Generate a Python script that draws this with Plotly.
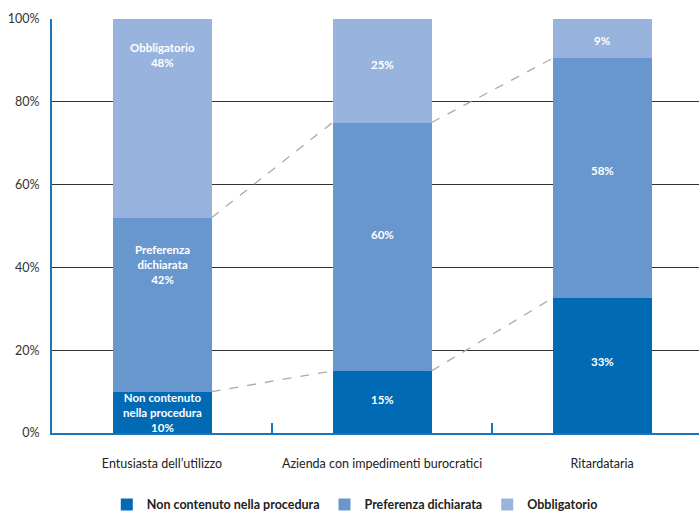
import plotly.graph_objects as go

categories = ["Entusiasta dell\u2019utilizzo", "Azienda con impedimenti burocratici", "Ritardataria"]
series_names = ["Non contenuto nella procedura", "Preferenza dichiarata", "Obbligatorio"]
non_contenuto = [10, 15, 32.6]
preferenza = [42, 60, 57.9]
obbligatorio = [48, 25, 9.5]
label_values = [[10, 15, 33], [42, 60, 58], [48, 25, 9]]
y_ticks = [0, 20, 40, 60, 80, 100]
y_tick_labels = ["0%", "20%", "40%", "60%", "80%", "100%"]

colors = ["#006AB4", "#6897CE", "#98B3DD"]
FONT = "Lato"
BAR_W = 0.45

series = [non_contenuto, preferenza, obbligatorio]
xs = list(range(len(categories)))

fig = go.Figure()
for name, vals, col in zip(series_names, series, colors):
    fig.add_trace(go.Bar(x=xs, y=vals, name=name, marker=dict(color=col, line=dict(width=0)),
                         width=BAR_W, hoverinfo="skip"))

# dashed connectors between segment tops of adjacent bars
cum1 = non_contenuto
cum2 = [a + b for a, b in zip(non_contenuto, preferenza)]
for cum in (cum1, cum2):
    for i in range(len(xs) - 1):
        fig.add_trace(go.Scatter(x=[xs[i] + BAR_W / 2, xs[i + 1] - BAR_W / 2], y=[cum[i], cum[i + 1]],
                                 mode="lines", line=dict(color="#AAAAAA", width=1.3, dash="dash"),
                                 showlegend=False, hoverinfo="skip"))

# segment labels
prefixes = [["Non contenuto<br>nella procedura<br>", "", ""],
            ["Preferenza<br>dichiarata<br>", "", ""],
            ["Obbligatorio<br>", "", ""]]
shifts = [[0, 2, 4], [40, 12, 8], [63, 6, -2]]
for s in range(3):
    for i in range(len(xs)):
        base = sum(series[k][i] for k in range(s))
        ymid = base + series[s][i] / 2
        fig.add_annotation(x=xs[i], y=ymid, yshift=shifts[s][i],
                           text="<b>%s%d%%</b>" % (prefixes[s][i], label_values[s][i]),
                           showarrow=False, font=dict(family=FONT, size=11.5, color="white"),
                           align="center")

fig.update_layout(
    barmode="stack",
    width=699, height=512,
    margin=dict(l=52, r=0, t=19, b=79, autoexpand=False),
    plot_bgcolor="white", paper_bgcolor="white",
    font=dict(family=FONT, size=12, color="#333333"),
    bargap=0,
    legend=dict(orientation="h", x=0.468, xanchor="center", yref="container", y=0.014, yanchor="middle",
                font=dict(family=FONT, size=12.5, color="#222222", weight="bold"),
                itemwidth=30, traceorder="normal"),
    showlegend=True,
)
fig.update_xaxes(
    range=[-0.5, 2.44], tickvals=xs, ticktext=categories, ticks="",
    showline=True, linecolor="#1A75BC", linewidth=2, showgrid=False, zeroline=False,
    tickfont=dict(family=FONT, size=12.5, color="#222222"), ticklabelstandoff=18,
    minor=dict(tickvals=[0.5, 1.5], ticks="inside", ticklen=10, tickcolor="#1A75BC", tickwidth=2, showgrid=False),
)
fig.update_yaxes(
    range=[0, 100], tickvals=y_ticks, ticktext=y_tick_labels,
    showline=True, linecolor="#1A75BC", linewidth=2, showgrid=True, gridcolor="#333333", gridwidth=1,
    zeroline=False, ticks="", ticklabelstandoff=8,
    tickfont=dict(family=FONT, size=12.5, color="#333333"),
)

fig.write_html("out.html")
